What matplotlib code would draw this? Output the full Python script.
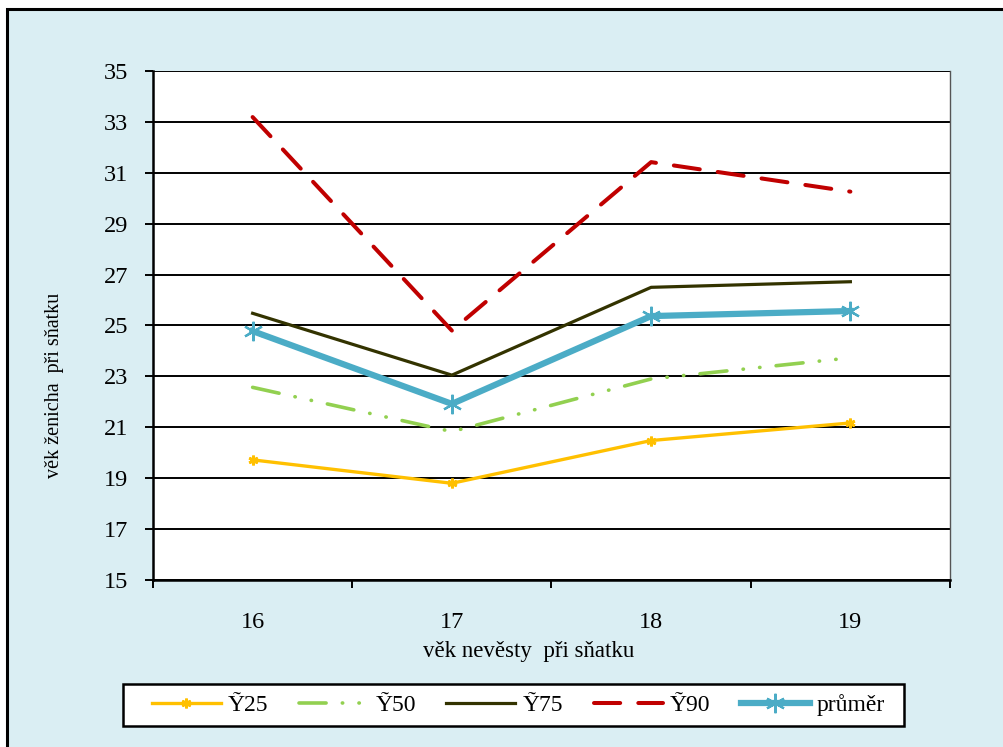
import matplotlib
matplotlib.use("Agg")
import matplotlib.pyplot as plt
from matplotlib.patches import Rectangle
from matplotlib.ticker import FixedLocator, NullFormatter, FixedFormatter

# Data: groom's age at marriage by bride's age
bride_age = ["16", "17", "18", "19"]
q25 = [19.72, 18.80, 20.48, 21.17]
q50 = [22.57, 20.83, 22.90, 23.73]
q75 = [25.48, 23.05, 26.50, 26.72]
q90 = [33.19, 24.80, 31.42, 30.26]
mean = [24.78, 21.92, 25.37, 25.57]
series_labels = ["Ỹ25", "Ỹ50", "Ỹ75", "Ỹ90", "průměr"]
y_ticks = list(range(15, 36, 2))

plt.rcParams["font.family"] = ["Liberation Serif", "DejaVu Serif"]
FS = 17.5

W, H = 1004, 747
fig = plt.figure(figsize=(W / 100, H / 100), dpi=100)
fig.patch.set_facecolor("white")

# Light-blue chart area with a black frame
fig.patches.append(Rectangle((7.5 / W, -0.05), 1.1, (H - 9) / H + 0.05,
                             transform=fig.transFigure, facecolor="#DAEEF3",
                             edgecolor="black", linewidth=2.2, zorder=0))
# Legend box
fig.patches.append(Rectangle((123 / W, 1 - 726 / H), (904 - 123) / W, 42 / H,
                             transform=fig.transFigure, facecolor="white",
                             edgecolor="black", linewidth=1.8, zorder=1))

ax = fig.add_axes([153 / W, (H - 580) / H, (950 - 153) / W, (580 - 71) / H])
ax.set_zorder(2)
ax.set_facecolor("white")

x = list(range(len(bride_age)))

ax.plot(x, q25, color="#FFC000", lw=2.4, marker=(6, 2, 0), ms=7, mew=2.0,
        label=series_labels[0], zorder=3)
ax.plot(x, q50, color="#92D050", lw=2.6, dash_capstyle="round",
        linestyle=(0, (7.5, 4.5, 0.1, 4.5, 0.1, 4.5)), label=series_labels[1], zorder=3)
ax.plot(x, q75, color="#333300", lw=2.3, label=series_labels[2], zorder=3)
ax.plot(x, q90, color="#C00000", lw=2.9, dash_capstyle="round",
        linestyle=(0, (6.5, 4.5)), label=series_labels[3], zorder=3)
ax.plot(x, mean, color="#4BACC6", lw=4.5, marker=(6, 2, 0), ms=14, mew=1.6,
        label=series_labels[4], zorder=4)

ax.set_xlim(-0.5, len(bride_age) - 0.5)
ax.set_ylim(15, 35)

ax.yaxis.set_major_locator(FixedLocator(y_ticks))
ax.set_yticklabels([str(v) for v in y_ticks])
ax.grid(axis="y", color="black", lw=1.4, zorder=1)
ax.set_axisbelow(True)

ax.xaxis.set_major_locator(FixedLocator([i - 0.5 for i in range(len(bride_age) + 1)]))
ax.xaxis.set_major_formatter(NullFormatter())
ax.xaxis.set_minor_locator(FixedLocator(x))
ax.xaxis.set_minor_formatter(FixedFormatter(bride_age))
ax.tick_params(axis="x", which="major", direction="out", length=6, width=1.4, color="black")
ax.tick_params(axis="x", which="minor", length=0, pad=23, labelsize=FS)
ax.tick_params(axis="y", direction="out", length=6, width=1.4, pad=12, labelsize=FS)

for side in ("left", "bottom"):
    ax.spines[side].set_linewidth(1.8)
    ax.spines[side].set_color("black")
ax.spines["top"].set_visible(False)
ax.spines["right"].set_color("#555555")
ax.spines["right"].set_linewidth(1.0)

fig.text(529 / W, 1 - 651 / H, "věk nevěsty  při sňatku", ha="center", va="center",
         fontsize=16.5, zorder=3)
fig.text(55 / W, 1 - 385 / H, "věk ženicha  při sňatku", ha="center", va="center",
         rotation=90, fontsize=14.5, zorder=3)

leg = ax.legend(loc="center left", bbox_to_anchor=(152 / W, 1 - 705 / H),
                bbox_transform=fig.transFigure, ncol=5, fontsize=17, frameon=False,
                handlelength=2.92, handletextpad=0.3, columnspacing=1.3,
                borderpad=0, borderaxespad=0)

fig.savefig("out.png", dpi=100)
